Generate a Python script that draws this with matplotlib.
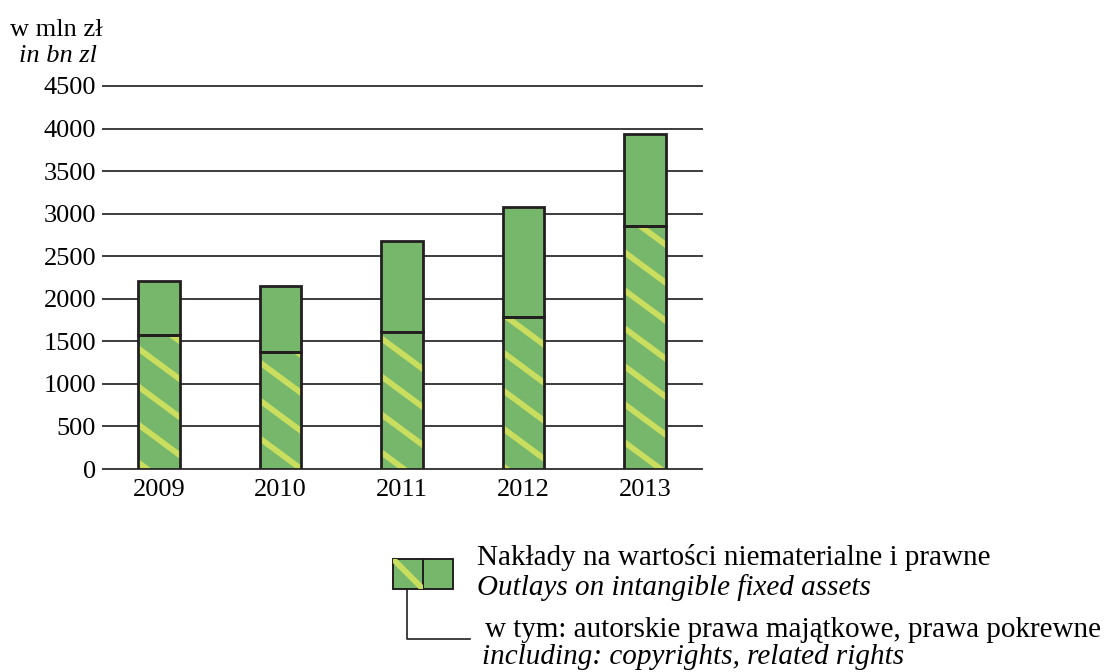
import matplotlib.pyplot as plt
from matplotlib.patches import Rectangle
from matplotlib.lines import Line2D
from matplotlib.transforms import IdentityTransform

plt.rcParams['font.family'] = ['Liberation Serif', 'DejaVu Serif']

# data (mln zł)
years = ['2009', '2010', '2011', '2012', '2013']
total_outlays = [2210, 2150, 2680, 3080, 3940]
copyrights = [1580, 1370, 1610, 1790, 2860]
y_ticks = [0, 500, 1000, 1500, 2000, 2500, 3000, 3500, 4000, 4500]

green = '#77b76b'
stripe = '#c9dd5e'
edge = '#231f20'

W, H = 1115, 672
fig = plt.figure(figsize=(W / 100, H / 100), dpi=100)


def fx(px):
    return px / W


def fy(py):
    return 1 - py / H


ax = fig.add_axes([fx(103), fy(469), fx(702) - fx(103), fy(86) - fy(469)])
x = list(range(len(years)))
width = 0.345
ax.set_xlim(-0.461, 4.469)
ax.set_ylim(0, 4500)

ax.set_yticks(y_ticks)
ax.set_yticklabels([str(t) for t in y_ticks])
ax.set_xticks(x)
ax.set_xticklabels(years)
ax.tick_params(axis='both', length=0, labelsize=19, colors='black')
ax.tick_params(axis='y', pad=5)
ax.tick_params(axis='x', pad=7)
for s in ax.spines.values():
    s.set_visible(False)
ax.yaxis.grid(True, color='#3c3c3c', linewidth=1.4)
for gl in ax.get_ygridlines():
    gl.set_clip_on(False)
ax.set_axisbelow(True)

upper = [t - c for t, c in zip(total_outlays, copyrights)]
low_bars = ax.bar(x, copyrights, width, color=green, linewidth=0, zorder=2)
ax.bar(x, upper, width, bottom=copyrights, color=green, linewidth=0, zorder=2)

# diagonal stripes in the lower part, anchored to a common pattern
slope = -0.74
spacing = 38
b0 = (H - 349) + 0.74 * 139
for rect in low_bars:
    (x0, y0) = ax.transData.transform((rect.get_x(), 0))
    (x1, y1) = ax.transData.transform((rect.get_x() + rect.get_width(), rect.get_height()))
    kmin = int((y0 - slope * x0 - b0) // spacing) - 2
    kmax = int((y1 - slope * x1 - b0) // spacing) + 3
    for k in range(kmin, kmax):
        b = b0 + k * spacing
        ln = Line2D([x0 - 20, x1 + 20],
                    [slope * (x0 - 20) + b, slope * (x1 + 20) + b],
                    transform=IdentityTransform(), color=stripe,
                    linewidth=4.2, zorder=3, solid_capstyle='butt')
        ax.add_line(ln)
        ln.set_clip_path(rect)

# outlines
ax.bar(x, copyrights, width, fill=False, edgecolor=edge, linewidth=2, zorder=4)
ax.bar(x, upper, width, bottom=copyrights, fill=False, edgecolor=edge,
       linewidth=2, zorder=4)

# unit label
fig.text(fx(56), fy(36), 'w mln zł', ha='center', va='baseline', fontsize=19)
fig.text(fx(58), fy(62), 'in bn zl', ha='center', va='baseline', fontsize=19,
         style='italic')

# legend
lx, ly, sq = 393, 559, 30
hatch_sq = Rectangle((fx(lx), fy(ly + sq)), fx(sq), sq / H, transform=fig.transFigure,
                     facecolor=green, edgecolor='none')
fig.add_artist(hatch_sq)
fig.add_artist(Rectangle((fx(lx + sq), fy(ly + sq)), fx(sq), sq / H,
                         transform=fig.transFigure, facecolor=green, edgecolor='none'))
diag = Line2D([fx(lx), fx(lx + sq)], [fy(ly), fy(ly + sq)], transform=fig.transFigure,
              color=stripe, linewidth=4.2, solid_capstyle='butt')
fig.add_artist(diag)
diag.set_clip_path(hatch_sq)
for ox in (0, sq):
    fig.add_artist(Rectangle((fx(lx + ox), fy(ly + sq)), fx(sq), sq / H,
                             transform=fig.transFigure, fill=False,
                             edgecolor=edge, linewidth=1.4))
fig.add_artist(Line2D([fx(407), fx(407), fx(470)], [fy(ly + sq), fy(639), fy(639)],
                      transform=fig.transFigure, color=edge, linewidth=1.2))

lfs = 21
fig.text(fx(477), fy(565), 'Nakłady na wartości niematerialne i prawne',
         va='baseline', fontsize=lfs)
fig.text(fx(477), fy(595), 'Outlays on intangible fixed assets',
         va='baseline', fontsize=lfs, style='italic')
fig.text(fx(485), fy(637), 'w tym: autorskie prawa majątkowe, prawa pokrewne',
         va='baseline', fontsize=lfs)
fig.text(fx(482), fy(664), 'including: copyrights, related rights',
         va='baseline', fontsize=lfs, style='italic')

fig.savefig('out.png', dpi=100)
